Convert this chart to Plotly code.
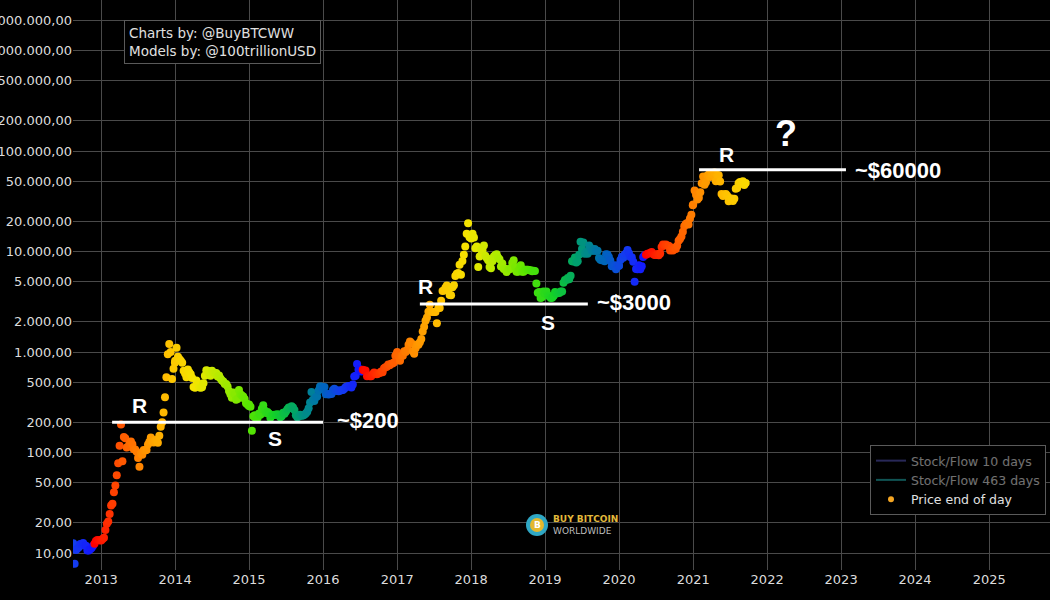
import math
import pandas as pd
import plotly.graph_objects as go

# ---------------- data (weekly end-of-day prices, USD) ----------------
start_2012 = "2012-08-16"
price_2012 = [12.5, 7.8, 10.7, 11.1, 11.4, 12.3, 12.3, 12.6, 11.9, 11.8, 10.6, 10.6,
              10.9, 11.2, 11.8, 12.4, 13.2, 13.5, 13.4, 13.4]
price_2013 = [13.3, 13.8, 14.2, 16.9, 19.5, 20.6, 24.5, 29.7, 31.0, 40.3, 46.9, 59.5, 78.0,
              117, 190, 82, 143, 139, 112, 114, 122, 129, 121, 108, 107, 102,
              88, 72, 98, 95, 106, 105, 106, 120, 128, 141, 127, 126, 133,
              132, 125, 147, 180, 200, 250, 355, 560, 950, 1200, 1000, 540, 680, 780]
price_2014 = [820, 1100, 900, 850, 820, 780, 650, 610, 560, 670, 630, 600, 550,
              450, 440, 520, 490, 445, 440, 445, 490, 580, 660, 650, 610, 580,
              650, 625, 620, 620, 570, 585, 545, 520, 510, 480, 480, 455, 410,
              380, 350, 395, 380, 335, 340, 420, 380, 370, 360, 340, 310, 300, 290]
price_2015 = [300, 285, 165, 230, 235, 215, 220, 245, 237, 272, 295, 262, 247,
              253, 245, 222, 235, 236, 237, 237, 240, 237, 225, 229, 249, 243,
              256, 270, 280, 277, 288, 280, 265, 235, 225, 228, 238, 232, 234,
              237, 244, 255, 275, 315, 400, 335, 326, 355, 360, 415, 455, 455, 430]
price_2016 = [433, 450, 380, 385, 378, 385, 382, 420, 432, 410, 417, 408, 415,
              417, 420, 430, 448, 455, 460, 455, 443, 475, 570, 580, 760, 665,
              675, 640, 665, 655, 655, 575, 585, 575, 575, 600, 625, 608, 600, 610,
              617, 640, 630, 690, 705, 715, 750, 740, 765, 770, 785, 920, 960]
price_2017 = [1000, 910, 820, 920, 920, 1020, 1000, 1050, 1180, 1270, 1230, 1020, 960,
              1090, 1190, 1180, 1250, 1350, 1600, 1780, 2050, 2200, 2520, 2960, 2520, 2500,
              2500, 2500, 1930, 2750, 2740, 3230, 4060, 4090, 4350, 4580, 4120, 3690, 3680,
              4400, 4610, 5700, 6000, 6130, 7390, 5880, 8040, 9300, 11200, 15000, 19100, 13900, 14100]
price_2018 = [13500, 15000, 13800, 10800, 11200, 7000, 8900, 10400, 10300, 11500, 9100, 8600, 8200,
              7000, 6800, 8000, 8900, 9250, 9400, 8700, 8400, 7100, 7600, 6700, 6750, 6250,
              6600, 6700, 6750, 7700, 8200, 7000, 6300, 6300, 6700, 7300, 6300, 6300, 6600,
              6600, 6600, 6500, 6500, 6350, 6450, 6400, 4800, 3900, 3950, 3450, 3500, 4000, 3800]
price_2019 = [3850, 4000, 3650, 3580, 3450, 3460, 3600, 3950, 3820, 3880, 3870, 4000, 4000,
              4900, 5200, 5200, 5450, 5300, 5750, 8000, 7950, 8700, 7800, 8000, 9300, 12500,
              10600, 12300, 9500, 9900, 9500, 11500, 10900, 10200, 10200, 10600, 10100, 10200, 8600,
              8300, 8200, 8350, 8000, 9400, 9350, 8800, 8150, 7150, 7300, 7250, 6650, 7300, 7200]
price_2020 = [7200, 8250, 8850, 8650, 9350, 9600, 10350, 9600, 8800, 8750, 7900, 5000, 6700,
              6650, 7300, 6650, 7130, 8800, 9200, 9300, 9500, 9550, 9650, 9900, 9450, 9250,
              9230, 9450, 9200, 9550, 11100, 11750, 11600, 11750, 11450, 11400, 10250, 10950, 10250, 10780,
              10600, 11430, 12800, 13300, 14150, 15700, 17800, 18800, 19200, 18550, 21300, 23200, 28900]
price_2021 = [29400, 40600, 36800, 33000, 34300, 38900, 47900, 55900, 46300, 48800, 57200, 58300, 55100,
              59000, 58100, 61300, 50000, 57800, 57300, 49700, 37300, 35700, 36900, 37300, 35800, 31600,
              33800, 33800, 31800, 33600, 42200, 42800, 47800, 49300, 48900, 50000, 46000, 48000]

halvings = ["2009-01-03", "2012-11-28", "2016-07-09", "2020-05-11", "2024-04-20"]

# support / resistance levels
level_200 = 200
level_3000 = 3000
level_60000 = 65000
level_200_span = ["2013-02-24", "2016-01-01"]
level_3000_span = ["2017-04-23", "2019-07-31"]
level_60000_span = ["2021-01-30", "2023-01-25"]

# hidden stock/flow model series (legend only)
sf_dates = ["2013-01-01", "2015-01-01", "2017-01-01", "2019-01-01", "2021-01-01"]
sf_10 = [60, 450, 1300, 5500, 50000]
sf_463 = [55, 400, 1200, 5000, 48000]

y_ticks = [10, 20, 50, 100, 200, 500, 1000, 2000, 5000, 10000, 20000, 50000,
           100000, 200000, 500000, 1000000, 2000000]

# label texts: (date, price level, text, anchor, size)
labels = [
    ("2013-07-11", 297, "R", "center", 21),
    ("2015-05-09", 139, "S", "center", 21),
    ("2016-03-01", 210, "~$200", "left", 22),
    ("2017-05-23", 4540, "R", "center", 21),
    ("2019-01-15", 1990, "S", "center", 21),
    ("2019-09-04", 3140, "~$3000", "left", 22),
    ("2021-06-13", 93300, "R", "center", 21),
    ("2022-04-05", 151000, "?", "center", 36),
    ("2023-03-01", 64700, "~$60000", "left", 22),
]

# ---------------- build series ----------------
segments = [(start_2012, price_2012)] + [
    (f"{yr}-01-01", vals) for yr, vals in
    [(2013, price_2013), (2014, price_2014), (2015, price_2015), (2016, price_2016),
     (2017, price_2017), (2018, price_2018), (2019, price_2019), (2020, price_2020),
     (2021, price_2021)]
]
dates, prices = [], []
for start, vals in segments:
    dates.extend(pd.date_range(start, periods=len(vals), freq="7D"))
    prices.extend(vals)

h = pd.to_datetime(halvings)
frac = []
for d in dates:
    i = h.searchsorted(d, side="right") - 1
    frac.append((d - h[i]) / (h[i + 1] - h[i]))

colorscale = [
    [0.00, "rgb(255,0,0)"],
    [0.08, "rgb(255,70,0)"],
    [0.18, "rgb(255,140,0)"],
    [0.28, "rgb(255,195,0)"],
    [0.38, "rgb(245,230,0)"],
    [0.48, "rgb(175,235,0)"],
    [0.58, "rgb(90,230,0)"],
    [0.68, "rgb(20,210,40)"],
    [0.76, "rgb(0,160,110)"],
    [0.86, "rgb(0,100,190)"],
    [0.93, "rgb(20,60,240)"],
    [1.00, "rgb(20,20,255)"],
]

FONT = "DejaVu Sans, Verdana, sans-serif"
BIG = "Liberation Sans, Arial, sans-serif"

fig = go.Figure()

fig.add_trace(go.Scatter(x=sf_dates, y=sf_10, mode="lines", name="Stock/Flow 10 days",
                         line=dict(color="#5050b0", width=2), visible="legendonly"))
fig.add_trace(go.Scatter(x=sf_dates, y=sf_463, mode="lines", name="Stock/Flow 463 days",
                         line=dict(color="#20a8a8", width=2), visible="legendonly"))

fig.add_trace(go.Scatter(
    x=dates, y=prices, mode="markers", showlegend=False, name="Price end of day",
    marker=dict(size=8, color=frac, colorscale=colorscale, cmin=0, cmax=1,
                line=dict(width=0)),
))
fig.add_trace(go.Scatter(x=[None], y=[None], mode="markers", name="Price end of day",
                         marker=dict(size=6, color="#f5a623")))

for span, lvl in [(level_200_span, level_200), (level_3000_span, level_3000),
                  (level_60000_span, level_60000)]:
    fig.add_trace(go.Scatter(x=span, y=[lvl, lvl], mode="lines", showlegend=False,
                             line=dict(color="white", width=3), hoverinfo="skip"))

annotations = []
for x, y, t, anc, sz in labels:
    annotations.append(dict(x=x, y=math.log10(y), xref="x", yref="y", text=f"<b>{t}</b>",
                            showarrow=False, xanchor=anc, yanchor="middle",
                            font=dict(family=BIG, size=sz, color="white")))

annotations.append(dict(
    x=(124 - 73) / 977, y=(570 - 20) / 570, xref="paper", yref="paper",
    xanchor="left", yanchor="top", align="left", showarrow=False,
    text="Charts by: @BuyBTCWW<br>Models by: @100trillionUSD",
    font=dict(family=FONT, size=13.5, color="#e0e0e0"),
    bordercolor="#5a5a5a", borderwidth=1, borderpad=4, bgcolor="black",
))
# logo text
annotations.append(dict(
    x=(551 - 73) / 977, y=(570 - 525) / 570, xref="paper", yref="paper",
    xanchor="left", yanchor="middle", align="left", showarrow=False,
    text="<b><span style='color:#e2b93b'>BUY BITCOIN</span></b><br><span style='color:#bdbdbd'>WORLDWIDE</span>",
    font=dict(family=FONT, size=9, color="#bdbdbd"),
))
annotations.append(dict(
    x=(537 - 73) / 977, y=(570 - 525) / 570, xref="paper", yref="paper",
    xanchor="center", yanchor="middle", showarrow=False,
    text="<b>B</b>", font=dict(family=FONT, size=9, color="white"),
))

cx, cy = (537 - 73) / 977, (570 - 525) / 570
shapes = [
    dict(type="circle", xref="paper", yref="paper",
         x0=cx - 11 / 977, x1=cx + 11 / 977, y0=cy - 11 / 570, y1=cy + 11 / 570,
         fillcolor="#2fa7c4", line=dict(width=0), layer="above"),
    dict(type="circle", xref="paper", yref="paper",
         x0=cx - 7 / 977, x1=cx + 7 / 977, y0=cy - 7 / 570, y1=cy + 7 / 570,
         fillcolor="#e3b82e", line=dict(width=0), layer="above"),
]

fig.update_layout(
    width=1050, height=600,
    margin=dict(l=73, r=0, t=0, b=30),
    paper_bgcolor="black", plot_bgcolor="black",
    separators=",.",
    font=dict(family=FONT, size=13, color="#dcdcdc"),
    showlegend=True,
    legend=dict(x=(870 - 73) / 977, y=(570 - 445) / 570, xanchor="left", yanchor="top",
                bgcolor="black", bordercolor="#5a5a5a", borderwidth=1,
                font=dict(family=FONT, size=12.5, color="#e0e0e0"), traceorder="normal"),
    annotations=annotations,
    shapes=shapes,
    xaxis=dict(type="date", range=["2012-08-15", "2025-10-28"], dtick="M12",
               tickformat="%Y", showgrid=True, gridcolor="#4a4a4a", gridwidth=1,
               zeroline=False, showline=False, ticks="",
               tickfont=dict(family=FONT, size=13, color="#dcdcdc")),
    yaxis=dict(type="log", range=[0.831, 6.503], tickvals=y_ticks, tickformat=",.2f",
               showgrid=True, gridcolor="#4a4a4a", gridwidth=1, zeroline=False,
               showline=False, ticks="", automargin=False,
               tickfont=dict(family=FONT, size=13, color="#dcdcdc")),
)

fig.write_html("out.html", config={"displayModeBar": False},
               post_script="document.body.style.margin='0';document.body.style.background='black';")
